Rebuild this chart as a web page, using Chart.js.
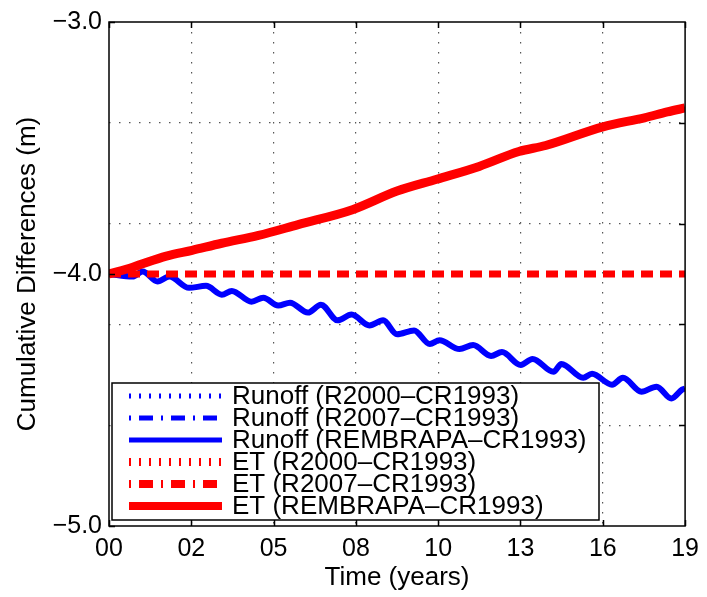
<!DOCTYPE html>
<html>
<head>
<meta charset="utf-8">
<script src="https://cdn.jsdelivr.net/npm/chart.js@4.4.1/dist/chart.umd.min.js"></script>
<style>
  html, body { margin: 0; padding: 0; background: #fff; }
  #wrap { width: 707px; height: 597px; position: relative; }
</style>
</head>
<body>
<div id="wrap"><canvas id="chart"></canvas></div>
<script>
// axis labels
const xTickLabels = ['00', '02', '05', '08', '10', '13', '16', '19'];
const yTickValues = [-5.0, -4.0, -3.0];
const yTickLabels = ['\u22125.0', '\u22124.0', '\u22123.0'];
const yGridValues = [-4.6, -4.2, -3.8, -3.4];

// flat series (no difference from CR1993)
const flatYears = [0, 19];
const runoffR2000 = [-4.0, -4.0];
const runoffR2007 = [-4.0, -4.0];
const etR2000 = [-4.0, -4.0];
const etR2007 = [-4.0, -4.0];

// runoff REMBRAPA - CR1993 (read at seasonal peaks / troughs)
const runoffYears = [0, 0.78, 1.11, 1.60, 1.99, 2.64, 3.20, 3.72, 4.05, 4.70, 5.09, 5.58, 5.97, 6.56, 6.99,
  7.54, 8.00, 8.59, 9.04, 9.50, 10.06, 10.58, 10.90, 11.56, 12.01, 12.60, 12.96, 13.58, 13.97, 14.66,
  14.92, 15.64, 15.93, 16.59, 16.95, 17.56, 18.06, 18.55, 18.90, 19.0];
const runoffRembrapa = [-4.00, -4.01, -3.99, -4.03, -4.01, -4.055, -4.047, -4.082, -4.067, -4.110, -4.094,
  -4.125, -4.114, -4.153, -4.122, -4.184, -4.161, -4.204, -4.184, -4.239, -4.224, -4.278, -4.263, -4.298,
  -4.282, -4.325, -4.310, -4.361, -4.337, -4.388, -4.357, -4.412, -4.396, -4.439, -4.412, -4.467, -4.447,
  -4.494, -4.459, -4.455];

// ET REMBRAPA - CR1993
const etYears = [0, 0.78, 1.89, 2.74, 3.72, 4.93, 6.24, 8.03, 9.50, 10.81, 12.21, 13.52, 14.40, 16.29, 17.66, 18.41, 19.0];
const etRembrapa = [-4.000, -3.973, -3.929, -3.906, -3.878, -3.847, -3.804, -3.745, -3.671, -3.624, -3.573,
  -3.514, -3.490, -3.416, -3.380, -3.357, -3.341];

const toPoints = (xs, ys) => xs.map((x, i) => ({ x: x, y: ys[i] }));

const FONT = '"Liberation Sans", Arial, Helvetica, sans-serif';
Chart.defaults.font.family = FONT;
Chart.defaults.color = '#000';

const BLUE = '#0000ff';
const RED = '#ff0000';

// box, inward ticks and the legend drawn on top of the lines
const framePlugin = {
  id: 'frame',
  afterDatasetsDraw(chart) {
    const ctx = chart.ctx;
    const a = chart.chartArea;
    const xs = chart.scales.x, ys = chart.scales.y;
    const tl = 6;
    ctx.save();
    ctx.strokeStyle = '#000';
    ctx.lineWidth = 1.5;
    ctx.setLineDash([]);
    ctx.beginPath();
    xs.ticks.forEach(t => {
      const px = Math.round(xs.getPixelForValue(t.value)) + 0.5;
      ctx.moveTo(px, a.bottom); ctx.lineTo(px, a.bottom - tl);
      ctx.moveTo(px, a.top); ctx.lineTo(px, a.top + tl);
    });
    yTickValues.forEach(v => {
      const py = Math.round(ys.getPixelForValue(v)) + 0.5;
      ctx.moveTo(a.left, py); ctx.lineTo(a.left + tl, py);
    });
    yGridValues.forEach(v => {
      const py = Math.round(ys.getPixelForValue(v)) + 0.5;
      ctx.moveTo(a.right, py); ctx.lineTo(a.right - tl, py);
    });
    ctx.stroke();

    // legend
    const lx = a.left + 3, ly = a.bottom - 143, lw = 487, lh = 137;
    ctx.fillStyle = '#fff';
    ctx.fillRect(lx, ly, lw, lh);
    ctx.strokeRect(lx, ly, lw, lh);
    const rowH = 22;
    ctx.font = '26px ' + FONT;
    ctx.textBaseline = 'middle';
    ctx.textAlign = 'left';
    chart.data.datasets.forEach((ds, i) => {
      const cy = ly + 13 + i * rowH;
      ctx.save();
      ctx.strokeStyle = ds.borderColor;
      ctx.lineWidth = ds.legendWidth;
      ctx.setLineDash(ds.legendDash);
      ctx.lineCap = 'butt';
      ctx.beginPath();
      ctx.moveTo(lx + 17, cy);
      ctx.lineTo(lx + 110, cy);
      ctx.stroke();
      ctx.restore();
      ctx.fillStyle = '#000';
      ctx.fillText(ds.label, lx + 120, cy + 1);
    });

    // axes box
    ctx.lineWidth = 1.5;
    ctx.strokeRect(a.left, a.top, a.right - a.left, a.bottom - a.top);
    ctx.restore();
  }
};

const gridDash = [1.5, 8.5];

new Chart(document.getElementById('chart'), {
  type: 'line',
  data: {
    datasets: [
      {
        label: 'Runoff (R2000\u2013CR1993)',
        data: toPoints(flatYears, runoffR2000),
        borderColor: BLUE, borderWidth: 5, borderDash: [2, 8],
        legendWidth: 5, legendDash: [2, 8],
        hidden: true, order: 2
      },
      {
        label: 'Runoff (R2007\u2013CR1993)',
        data: toPoints(flatYears, runoffR2007),
        borderColor: BLUE, borderWidth: 5, borderDash: [14, 8, 2, 8],
        legendWidth: 5, legendDash: [2, 8, 14, 8],
        hidden: true, order: 2
      },
      {
        label: 'Runoff (REMBRAPA\u2013CR1993)',
        data: toPoints(runoffYears, runoffRembrapa),
        borderColor: BLUE, borderWidth: 6,
        cubicInterpolationMode: 'monotone',
        legendWidth: 5, legendDash: [],
        order: 2
      },
      {
        label: 'ET (R2000\u2013CR1993)',
        data: toPoints(flatYears, etR2000),
        borderColor: RED, borderWidth: 8, borderDash: [2, 8],
        legendWidth: 8, legendDash: [2, 8],
        hidden: true, order: 1
      },
      {
        label: 'ET (R2007\u2013CR1993)',
        data: toPoints(flatYears, etR2007),
        borderColor: RED, borderWidth: 7, borderDash: [12, 7],
        legendWidth: 8, legendDash: [2, 8, 14, 8],
        order: 1
      },
      {
        label: 'ET (REMBRAPA\u2013CR1993)',
        data: toPoints(etYears, etRembrapa),
        borderColor: RED, borderWidth: 9,
        cubicInterpolationMode: 'monotone',
        legendWidth: 8, legendDash: [],
        order: 0
      }
    ]
  },
  options: {
    responsive: true,
    maintainAspectRatio: false,
    animation: false,
    layout: { padding: { top: 16, right: 16, left: 0, bottom: 0 } },
    elements: {
      point: { radius: 0, hoverRadius: 0 },
      line: { borderJoinStyle: 'round', borderCapStyle: 'butt', tension: 0 }
    },
    plugins: { legend: { display: false }, tooltip: { enabled: false } },
    scales: {
      x: {
        type: 'linear',
        min: 0,
        max: 19,
        afterBuildTicks: scale => {
          const step = (scale.max - scale.min) / (xTickLabels.length - 1);
          scale.ticks = xTickLabels.map((l, i) => ({ value: scale.min + i * step }));
        },
        afterFit: scale => { scale.height = 71; },
        ticks: {
          autoSkip: false,
          maxRotation: 0,
          padding: 8,
          font: { size: 25 },
          callback: (v, i) => xTickLabels[i]
        },
        grid: {
          drawTicks: false,
          lineWidth: 1.2,
          color: ctx => (ctx.index === 0 || ctx.index === xTickLabels.length - 1) ? 'transparent' : '#555'
        },
        border: { display: false, dash: gridDash },
        title: {
          display: true,
          text: 'Time (years)',
          font: { size: 26 },
          padding: { top: 0, bottom: 4 }
        }
      },
      y: {
        type: 'linear',
        min: -5,
        max: -3,
        afterBuildTicks: scale => {
          scale.ticks = yTickValues.concat(yGridValues).sort((p, q) => p - q).map(v => ({ value: v }));
        },
        afterFit: scale => { scale.width = 109; },
        ticks: {
          autoSkip: false,
          padding: 7,
          font: { size: 25 },
          callback: v => {
            const k = yTickValues.findIndex(t => Math.abs(t - v) < 1e-6);
            return k >= 0 ? yTickLabels[k] : '';
          }
        },
        grid: {
          drawTicks: false,
          lineWidth: 1.2,
          color: ctx => yGridValues.some(g => Math.abs(g - ctx.tick.value) < 1e-6) ? '#555' : 'transparent'
        },
        border: { display: false, dash: gridDash },
        title: {
          display: true,
          text: 'Cumulative Differences (m)',
          font: { size: 26 },
          padding: { top: 12, bottom: 0 }
        }
      }
    }
  },
  plugins: [framePlugin]
});
</script>
</body>
</html>
